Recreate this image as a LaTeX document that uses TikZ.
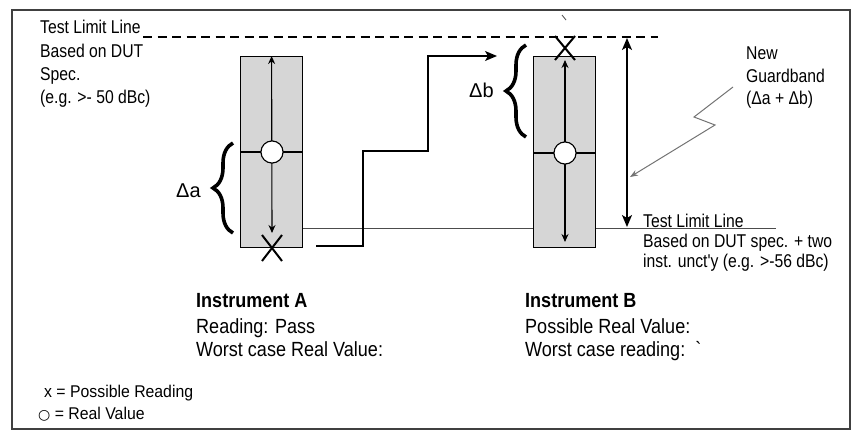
\documentclass[tikz,border=0pt]{standalone}
\usepackage{fontspec}
\setmainfont{Liberation Sans}
\newfontfamily\lblfont{Liberation Sans}[FakeStretch=0.85]
\newfontfamily\narrowfont{Liberation Sans}[FakeStretch=0.88]
\newfontfamily\legfont{Liberation Sans}[FakeStretch=0.93]
\newfontfamily\symfont{DejaVu Sans}
\usetikzlibrary{arrows.meta,decorations.pathreplacing}
\begin{document}
\begin{tikzpicture}[x=1pt,y=-1pt,
  lbl/.style={anchor=base west, inner sep=0pt, font=\lblfont\fontsize{18.5}{20}\selectfont},
  big/.style={anchor=base west, inner sep=0pt, font=\narrowfont\fontsize{20.5}{24}\selectfont},
  bigbold/.style={big, font=\narrowfont\bfseries\fontsize{20.5}{24}\selectfont},
  legend/.style={anchor=base west, inner sep=0pt, font=\legfont\fontsize{17}{20}\selectfont},
  delta/.style={anchor=base west, inner sep=0pt, font=\fontsize{20}{22}\selectfont},
  instbox/.style={draw, fill=gray!32, line width=1.2pt, minimum width=62pt, minimum height=191pt, anchor=north west, inner sep=0pt},
  realval/.style={circle, draw, fill=white, line width=1pt, minimum size=22pt, inner sep=0pt},
  xline/.style={line width=2pt},
  inarrow/.style={line width=1.1pt, {Stealth[length=8pt,width=7pt]}-{Stealth[length=8pt,width=7pt]}},
  brc/.style={line width=3.6pt, decorate, decoration={brace, amplitude=20pt}},
  limitline/.style={line width=1pt, black!70},
  conn/.style={line width=1.3pt, -{Stealth[length=12pt,width=10pt,inset=3pt]}},
  gband/.style={line width=1.5pt, {Stealth[length=12pt,width=10pt,inset=3pt]}-{Stealth[length=12pt,width=10pt,inset=3pt]}},
  zig/.style={line width=1pt, black!55, -{Stealth[length=8pt,width=6pt]}}
]
\useasboundingbox (0,0) rectangle (852,431);
% frame
\draw[line width=1.6pt, black!75] (12,10) rectangle (850,429);
\draw[black!70, line width=0.8pt] (562,15) -- (566,20);

% coordinates
\coordinate (dashL) at (143,37);
\coordinate (dashR) at (658,37);
\coordinate (limR) at (776,228);
\coordinate (gbTop) at (627,38);
\coordinate (gbBot) at (627,227);
\coordinate (stepS) at (316,246);
\coordinate (stepE) at (497,56);
\coordinate (zigS) at (733,87);
\coordinate (zigE) at (630,177);

% dashed test limit
\draw[line width=1.3pt, dash pattern=on 9pt off 5.5pt] (dashL) -- (dashR);

% Instrument A
\node[instbox] (boxA) at (240,56) {};
\draw[limitline] (boxA.east |- limR) -- (limR);
\node[realval] (cA) at (272,152) {};
\draw[line width=1.2pt] (boxA.west |- cA) -- (boxA.east |- cA);
\draw[inarrow] (boxA.north) -- (272,233);
\node[realval] at (cA) {};
\coordinate (xA) at (272,248);
\draw[xline] (xA) ++(-10,-13) -- ++(20,26) (xA) ++(-10,13) -- ++(20,-26);
\draw[brc] (233,233) -- (233,143);
\node[delta] (da) at (176,197) {Δa};

% step connector
\draw[conn] (stepS) -- (363,246) -- (363,151) -- (428,151) -- (428,56) -- (stepE);

% Instrument B
\node[instbox] (boxB) at (533,56) {};
\node[realval] (cB) at (565,153) {};
\draw[line width=1.2pt] (boxB.west |- cB) -- (boxB.east |- cB);
\draw[inarrow] (565,60) -- (565,242);
\node[realval] at (cB) {};
\coordinate (xB) at (565,48);
\draw[xline] (xB) ++(-10,-12) -- ++(20,24) (xB) ++(-10,12) -- ++(20,-24);
\draw[brc] (526,137) -- (526,45);
\node[delta] (db) at (469,97) {Δb};

% guardband
\draw[gband] (gbTop) -- (gbBot);
\draw[zig] (zigS) -- (694,117) -- (715,125) -- (zigE);

% labels left
\node[lbl] (t1) at (40,33) {Test Limit Line};
\node[lbl] (t2) at (40,57) {Based on DUT};
\node[lbl] (t3) at (40,80) {Spec.};
\node[lbl] (t4) at (40,103) {(e.g. >- 50 dBc)};

% labels right
\node[lbl] (g1) at (746,59) {New};
\node[lbl] (g2) at (746,82) {Guardband};
\node[lbl] (g3) at (746,104) {(Δa + Δb)};

\node[lbl] (r1) at (643,227) {Test Limit Line};
\node[lbl] (r2) at (643,247) {Based on DUT spec. + two};
\node[lbl] (r3) at (643,267) {inst. unct'y (e.g. >-56 dBc)};

% bottom
\node[bigbold] (ia) at (196,307) {Instrument A};
\node[big] (ia2) at (196,333) {Reading: Pass};
\node[big] (ia3) at (196,356) {Worst case Real Value:};
\node[bigbold] (ib) at (525,307) {Instrument B};
\node[big] (ib2) at (525,333) {Possible Real Value:};
\node[big] (ib3) at (525,356) {Worst case reading:\ \ \textasciigrave};

% legend
\node[legend] (l1) at (44,397) {x = Possible Reading};
\node[legend] (l2) at (38,419) {{\symfont\fontsize{14}{14}\selectfont ○} = Real Value};
\end{tikzpicture}
\end{document}
